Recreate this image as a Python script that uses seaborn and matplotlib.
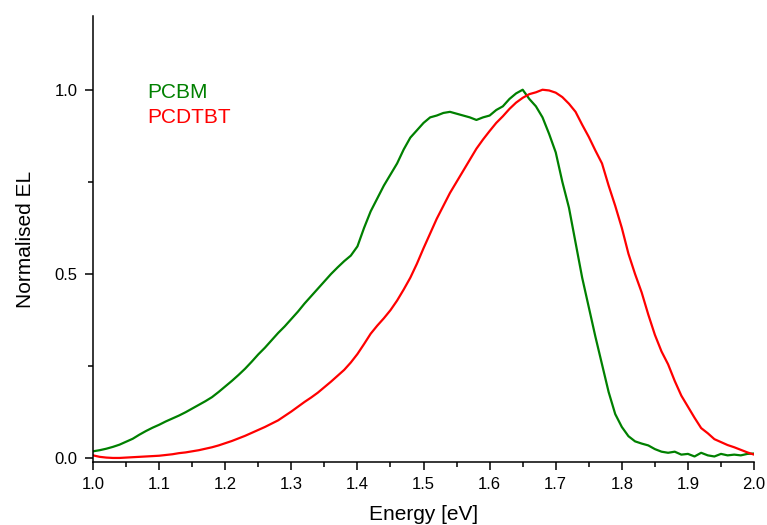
import numpy as np
import pandas as pd
import matplotlib
matplotlib.use("Agg")
import matplotlib.pyplot as plt
from matplotlib.ticker import MultipleLocator, FormatStrFormatter
import seaborn as sns

# Photon energy grid (eV)
energy = [round(1.0 + 0.01 * i, 2) for i in range(101)]

# Normalised electroluminescence, PCBM
pcbm = [
    0.019, 0.022, 0.026, 0.031, 0.037, 0.045, 0.053, 0.064, 0.074, 0.083,
    0.091, 0.100, 0.108, 0.116, 0.125, 0.135, 0.145, 0.155, 0.166, 0.180,
    0.195, 0.210, 0.226, 0.243, 0.262, 0.282, 0.300, 0.320, 0.340, 0.358,
    0.378, 0.398, 0.420, 0.440, 0.460, 0.480, 0.500, 0.518, 0.535, 0.550,
    0.575, 0.625, 0.670, 0.705, 0.740, 0.770, 0.800, 0.838, 0.870, 0.890,
    0.910, 0.925, 0.930, 0.937, 0.940, 0.935, 0.930, 0.925, 0.918, 0.925,
    0.930, 0.945, 0.955, 0.975, 0.990, 1.000, 0.975, 0.955, 0.925, 0.880,
    0.830, 0.750, 0.680, 0.585, 0.490, 0.410, 0.330, 0.255, 0.180, 0.120,
    0.085, 0.060, 0.046, 0.040, 0.035, 0.025, 0.018, 0.015, 0.018, 0.010,
    0.012, 0.005, 0.015, 0.008, 0.005, 0.012, 0.008, 0.010, 0.008, 0.012,
    0.013,
]

# Normalised electroluminescence, PCDTBT
pcdtbt = [
    0.008, 0.004, 0.002, 0.001, 0.001, 0.002, 0.003, 0.004, 0.005, 0.006,
    0.007, 0.009, 0.011, 0.014, 0.016, 0.019, 0.022, 0.026, 0.030, 0.035,
    0.041, 0.047, 0.054, 0.061, 0.069, 0.077, 0.085, 0.094, 0.103, 0.115,
    0.127, 0.140, 0.153, 0.165, 0.178, 0.193, 0.208, 0.224, 0.240, 0.260,
    0.283, 0.310, 0.338, 0.360, 0.380, 0.402, 0.428, 0.458, 0.490, 0.528,
    0.570, 0.610, 0.650, 0.685, 0.720, 0.750, 0.780, 0.810, 0.840, 0.865,
    0.888, 0.910, 0.928, 0.948, 0.965, 0.978, 0.988, 0.993, 1.000, 0.998,
    0.992, 0.980, 0.962, 0.940, 0.905, 0.872, 0.835, 0.800, 0.740, 0.685,
    0.625, 0.555, 0.500, 0.450, 0.390, 0.335, 0.290, 0.255, 0.210, 0.170,
    0.140, 0.110, 0.082, 0.068, 0.052, 0.044, 0.036, 0.030, 0.023, 0.016,
    0.010,
]

series_names = ["PCBM", "PCDTBT"]
series_colors = ["#008000", "#ff0000"]

df = pd.concat([
    pd.DataFrame({"Energy": energy, "EL": pcbm, "Sample": "PCBM"}),
    pd.DataFrame({"Energy": energy, "EL": pcdtbt, "Sample": "PCDTBT"}),
], ignore_index=True)

sns.set_style("ticks")
plt.rcParams["font.family"] = ["Liberation Sans", "DejaVu Sans"]
plt.rcParams["text.color"] = "black"
plt.rcParams["axes.labelcolor"] = "black"

fig = plt.figure(figsize=(7.67, 5.25), dpi=100)
ax = fig.add_axes([0.1213, 0.12, 0.8618, 0.8495])

sns.lineplot(data=df, x="Energy", y="EL", hue="Sample", hue_order=series_names,
             palette=series_colors, linewidth=1.6, legend=False, ax=ax)

ax.set_xlim(1.0, 2.0)
ax.set_ylim(-0.01, 1.2)
ax.xaxis.set_major_locator(MultipleLocator(0.1))
ax.xaxis.set_minor_locator(MultipleLocator(0.05))
ax.xaxis.set_major_formatter(FormatStrFormatter("%.1f"))
ax.yaxis.set_major_locator(MultipleLocator(0.5))
ax.yaxis.set_minor_locator(MultipleLocator(0.25))
ax.yaxis.set_major_formatter(FormatStrFormatter("%.1f"))

for side in ["top", "right"]:
    ax.spines[side].set_visible(False)
for side in ["left", "bottom"]:
    ax.spines[side].set_linewidth(1.1)
    ax.spines[side].set_color("black")

ax.tick_params(axis="both", which="major", direction="out", length=6,
               width=1.1, labelsize=12, pad=5, colors="black")
ax.tick_params(axis="both", which="minor", direction="out", length=3.5,
               width=1.1, colors="black")

ax.set_xlabel("Energy [eV]", fontsize=15, labelpad=9, color="black")
ax.set_ylabel("Normalised EL", fontsize=15, labelpad=14, color="black")

# Coloured sample labels in place of a legend box
ax.text(1.082, 0.978, "PCBM", color=series_colors[0], fontsize=15, va="baseline")
ax.text(1.082, 0.910, "PCDTBT", color=series_colors[1], fontsize=15, va="baseline")

fig.savefig("out.png", dpi=100)
